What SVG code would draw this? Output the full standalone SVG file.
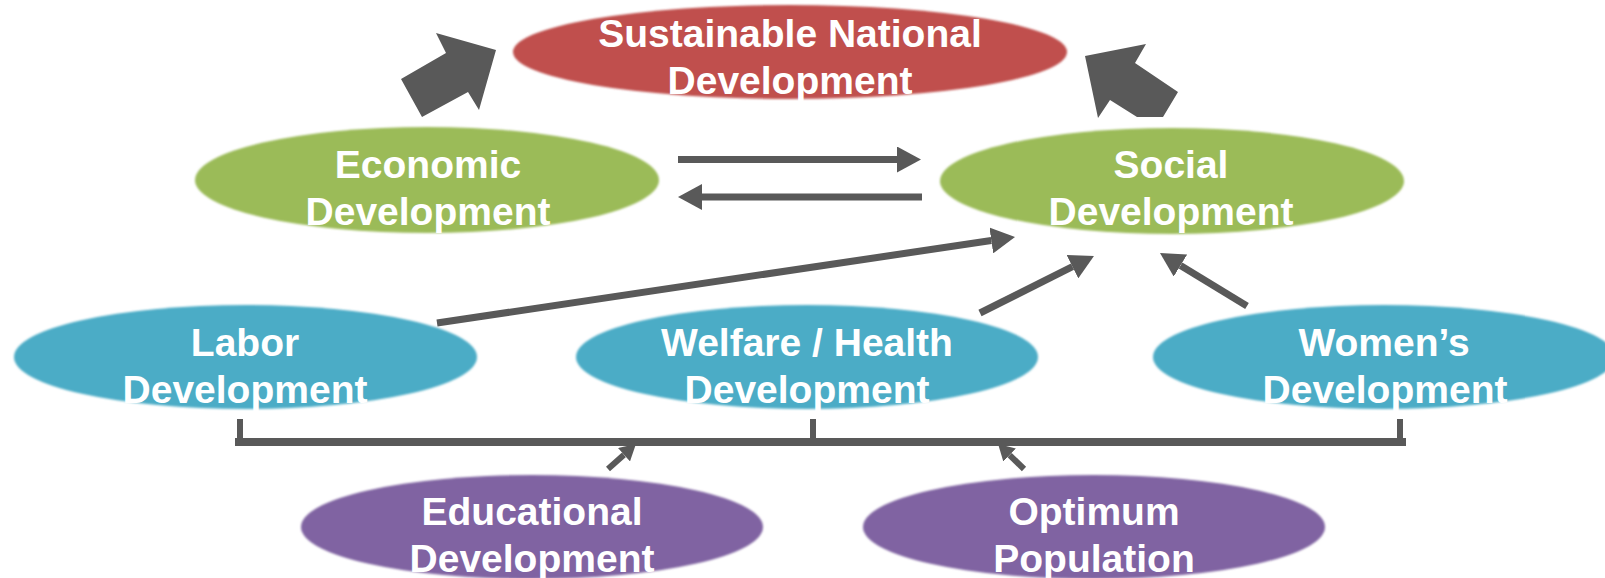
<svg xmlns="http://www.w3.org/2000/svg" width="1605" height="578" viewBox="0 0 1605 578">
<style>
  .lbl { font-family: "Liberation Sans", Arial, sans-serif; font-weight: bold; font-size: 39px; fill: #ffffff; text-anchor: middle; }
  .red { fill: #C0504D; }
  .green { fill: #9BBB59; }
  .blue { fill: #4BACC6; }
  .purple { fill: #8064A2; }
  .conn { stroke: #595959; fill: none; }
  .solid { fill: #595959; }
</style>
<defs>
  <filter id="soft" x="-5%" y="-10%" width="110%" height="120%">
    <feGaussianBlur stdDeviation="0.8"/>
  </filter>
  <marker id="ah" markerUnits="userSpaceOnUse" markerWidth="24" markerHeight="26" viewBox="0 -13 24 26" refX="0" refY="0" orient="auto">
    <path d="M0,-13 L24,0 L0,13 Z" fill="#595959"/>
  </marker>
  <marker id="ahs" markerUnits="userSpaceOnUse" markerWidth="16" markerHeight="18" viewBox="0 -9 16 18" refX="0" refY="0" orient="auto">
    <path d="M0,-9 L16,0 L0,9 Z" fill="#595959"/>
  </marker>
</defs>
<rect width="1605" height="578" fill="#ffffff"/>

<g id="connectors">
  <polygon class="solid" points="496,50 479,110 468,92 422,117 401,79 446,53 436,33"/>
  <polygon class="solid" points="1085,56 1146,44 1135,63 1178,92 1163,117 1137,117 1110,100 1098,118"/>
  <line class="conn" stroke-width="7" x1="678" y1="159.5" x2="897" y2="159.5" marker-end="url(#ah)"/>
  <line class="conn" stroke-width="7" x1="922" y1="197" x2="702" y2="197" marker-end="url(#ah)"/>
  <line class="conn" stroke-width="7" x1="437" y1="323" x2="991.3" y2="240.5" marker-end="url(#ah)"/>
  <line class="conn" stroke-width="7" x1="980" y1="313" x2="1072.5" y2="266.7" marker-end="url(#ah)"/>
  <line class="conn" stroke-width="7" x1="1247" y1="306" x2="1180.5" y2="265.5" marker-end="url(#ah)"/>
  <line class="conn" stroke-width="6" x1="608" y1="469" x2="624" y2="454.7" marker-end="url(#ahs)"/>
  <line class="conn" stroke-width="6" x1="1024" y1="469" x2="1009.6" y2="455.1" marker-end="url(#ahs)"/>
  <rect class="solid" x="235" y="438" width="1171" height="8"/>
  <rect class="solid" x="237" y="419" width="6" height="22"/>
  <rect class="solid" x="810" y="419" width="6" height="22"/>
  <rect class="solid" x="1397" y="419" width="6" height="22"/>
</g>

<g id="node-sustainable">
  <ellipse class="red" cx="790" cy="52" rx="277" ry="47" filter="url(#soft)"/>
  <text class="lbl" x="790" y="47">Sustainable National</text>
  <text class="lbl" x="790" y="94">Development</text>
</g>
<g id="node-economic">
  <ellipse class="green" cx="427" cy="180" rx="232" ry="53" filter="url(#soft)"/>
  <text class="lbl" x="428" y="178">Economic</text>
  <text class="lbl" x="428" y="225">Development</text>
</g>
<g id="node-social">
  <ellipse class="green" cx="1172" cy="181" rx="232" ry="53" filter="url(#soft)"/>
  <text class="lbl" x="1171" y="178">Social</text>
  <text class="lbl" x="1171" y="225">Development</text>
</g>
<g id="node-labor">
  <ellipse class="blue" cx="245.5" cy="357" rx="231.5" ry="52" filter="url(#soft)"/>
  <text class="lbl" x="245" y="356">Labor</text>
  <text class="lbl" x="245" y="403">Development</text>
</g>
<g id="node-welfare">
  <ellipse class="blue" cx="807" cy="357" rx="231" ry="52" filter="url(#soft)"/>
  <text class="lbl" x="807" y="356">Welfare / Health</text>
  <text class="lbl" x="807" y="403">Development</text>
</g>
<g id="node-women">
  <ellipse class="blue" cx="1384" cy="357" rx="231" ry="52" filter="url(#soft)"/>
  <text class="lbl" x="1384" y="356">Women’s</text>
  <text class="lbl" x="1385" y="403">Development</text>
</g>
<g id="node-educational">
  <ellipse class="purple" cx="532" cy="527" rx="231" ry="52" filter="url(#soft)"/>
  <text class="lbl" x="532" y="525">Educational</text>
  <text class="lbl" x="532" y="572">Development</text>
</g>
<g id="node-optimum">
  <ellipse class="purple" cx="1094" cy="527" rx="231" ry="52" filter="url(#soft)"/>
  <text class="lbl" x="1094" y="525">Optimum</text>
  <text class="lbl" x="1094" y="572">Population</text>
</g>
</svg>
